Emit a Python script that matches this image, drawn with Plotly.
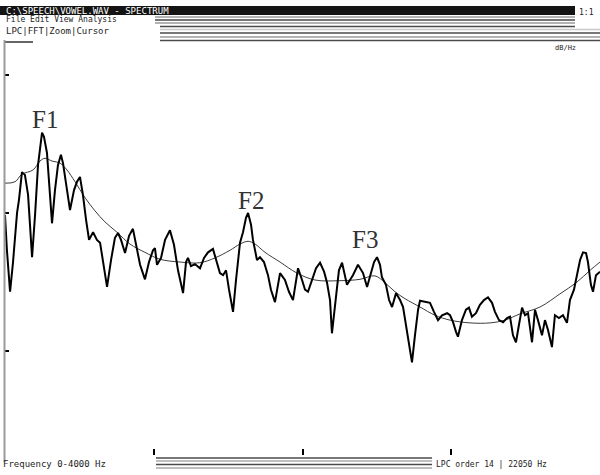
import plotly.graph_objects as go

# Harmonic spectrum (Hz, dB)
spec_hz = [0, 13, 34, 54, 81, 94, 114, 134, 155, 182, 202, 222, 249, 262, 282, 303, 316, 336, 356, 376,
           390, 417, 437, 464, 484, 504, 524, 545, 565, 592, 618, 639, 659, 686, 713, 739, 760, 780, 807, 834,
           860, 881, 908, 941, 968, 995, 1008, 1022, 1049, 1076, 1109, 1136, 1163, 1197, 1217, 1230, 1250, 1277, 1311, 1338,
           1365, 1398, 1425, 1445, 1466, 1486, 1506, 1533, 1553, 1580, 1600, 1620, 1634, 1654, 1667, 1694, 1714, 1741, 1768, 1788,
           1815, 1849, 1882, 1909, 1936, 1970, 1997, 2017, 2037, 2064, 2091, 2118, 2145, 2165, 2185, 2198, 2225, 2245, 2266, 2286,
           2299, 2319, 2339, 2373, 2407, 2434, 2454, 2481, 2501, 2521, 2534, 2561, 2582, 2602, 2629, 2656, 2676, 2696, 2716, 2736,
           2756, 2777, 2790, 2824, 2857, 2884, 2911, 2938, 2972, 2992, 3012, 3032, 3045, 3072, 3099, 3119, 3139, 3166, 3193, 3220,
           3247, 3274, 3294, 3321, 3348, 3375, 3395, 3415, 3435, 3455, 3476, 3496, 3516, 3543, 3563, 3583, 3610, 3630, 3650, 3677,
           3697, 3724, 3751, 3778, 3798, 3825, 3845, 3866, 3886, 3906, 3919, 3939, 3953, 3973, 4000]
spec_db = [39.7, 34.6, 28.6, 32.9, 40.0, 41.9, 45.9, 45.5, 42.6, 33.6, 39.7, 46.9, 51.6, 51.0, 48.7, 41.9, 38.5, 43.3, 46.9, 48.4,
           47.2, 43.3, 40.4, 43.3, 44.5, 45.2, 42.6, 39.0, 36.1, 37.2, 36.1, 35.7, 32.9, 29.3, 33.2, 36.4, 37.1, 36.1, 34.2, 36.7,
           37.7, 35.4, 32.5, 30.4, 32.9, 34.6, 34.9, 32.5, 33.5, 36.1, 37.5, 35.4, 31.7, 28.4, 32.9, 33.5, 32.3, 32.6, 32.0, 33.5,
           34.3, 34.8, 32.9, 31.3, 31.0, 31.7, 28.9, 25.7, 30.3, 35.7, 37.2, 39.3, 40.0, 38.3, 36.1, 33.2, 33.6, 32.9, 31.0, 28.9,
           27.1, 31.3, 30.3, 28.6, 27.4, 32.0, 30.3, 28.9, 28.6, 30.3, 32.0, 32.8, 31.5, 29.9, 27.4, 22.6, 27.4, 31.7, 32.8, 31.0,
           29.6, 30.3, 31.0, 32.5, 31.3, 29.3, 31.0, 32.9, 33.6, 32.5, 30.7, 29.6, 27.4, 26.4, 28.4, 27.4, 26.4, 23.8, 20.9, 18.4,
           22.3, 26.0, 27.3, 27.1, 27.0, 25.7, 24.5, 25.2, 25.5, 25.2, 24.2, 22.8, 22.1, 24.5, 26.0, 26.3, 25.0, 25.5, 26.7, 27.4,
           27.8, 27.0, 25.7, 24.5, 24.2, 24.8, 25.0, 22.3, 21.3, 23.8, 26.3, 25.2, 25.5, 21.3, 26.0, 24.5, 22.3, 24.5, 23.1, 20.6,
           25.2, 24.8, 25.2, 24.1, 27.4, 28.9, 31.0, 33.2, 34.3, 34.2, 32.9, 29.6, 28.6, 31.0, 31.5]

# Smooth LPC envelope (Hz, dB)
env_hz = [0, 67, 114, 188, 235, 269, 316, 370, 417, 471, 538, 605, 672, 753, 840, 941, 1042, 1176, 1311, 1412,
          1513, 1580, 1634, 1681, 1748, 1849, 1963, 2084, 2252, 2387, 2487, 2555, 2622, 2689, 2790, 2891, 2992, 3126, 3261, 3361,
          3462, 3597, 3731, 3845, 3933, 4000]
env_db = [44.3, 44.5, 45.6, 46.2, 47.5, 47.9, 47.5, 47.2, 46.2, 44.5, 42.2, 40.3, 38.7, 37.2, 35.5, 34.3, 33.3, 32.9, 32.8, 33.5,
          34.6, 35.5, 35.9, 35.5, 34.3, 32.9, 31.3, 30.3, 30.2, 30.4, 30.9, 29.9, 28.6, 27.6, 26.4, 25.2, 24.5, 24.1, 24.1, 24.5,
          25.4, 26.4, 28.3, 30.0, 31.7, 32.9]

# Formant peaks
formant_names = ["F1", "F2", "F3"]
formant_hz = [249, 1634, 2501]
formant_db = [51.6, 40.0, 33.6]

freq_ticks = [1000, 2000, 3000]
level_ticks = [20, 40, 60]

W, H = 600, 475


def px(x):
    return x / W


def py(y):
    return 1 - y / H


fig = go.Figure()
fig.add_trace(go.Scatter(x=env_hz, y=env_db, mode="lines",
                         line=dict(color="#3c3c3c", width=1, shape="spline", smoothing=1),
                         hoverinfo="skip", showlegend=False))
fig.add_trace(go.Scatter(x=spec_hz, y=spec_db, mode="lines",
                         line=dict(color="#000000", width=2),
                         showlegend=False))

# label placement relative to each formant peak (pixels)
label_offsets = [(3, -2), (3, -3), (-12, 2)]
for name, fx, fy, (dx, dy) in zip(formant_names, formant_hz, formant_db, label_offsets):
    fig.add_annotation(x=fx, y=fy, text=name, showarrow=False,
                       xshift=dx, yshift=dy, yanchor="bottom",
                       font=dict(family="Liberation Serif", size=25, color="#333333"))

shapes = []
# title bar
shapes.append(dict(type="rect", xref="paper", yref="paper", x0=px(0), x1=px(575), y0=py(15), y1=py(6),
                   fillcolor="#141414", line=dict(width=0), layer="above"))
# toolbar stripes
for yy, col, x0, x1 in [(17, "#9a9a9a", 155, 575), (20, "#4a4a4a", 155, 575), (23, "#9a9a9a", 155, 575),
                        (26.5, "#4a4a4a", 160, 575), (29.5, "#c8c8c8", 160, 600), (33, "#4a4a4a", 160, 600),
                        (37, "#9a9a9a", 160, 600), (40.5, "#4a4a4a", 160, 600)]:
    shapes.append(dict(type="line", xref="paper", yref="paper", x0=px(x0), x1=px(x1), y0=py(yy), y1=py(yy),
                       line=dict(color=col, width=1.5)))
# small underline below toolbar
shapes.append(dict(type="line", xref="paper", yref="paper", x0=px(5), x1=px(33), y0=py(42), y1=py(42),
                   line=dict(color="#333333", width=1.5)))
# left frame
shapes.append(dict(type="line", xref="paper", yref="paper", x0=px(4.5), x1=px(4.5), y0=py(40), y1=py(462),
                   line=dict(color="#9a9a9a", width=2)))
# status bar stripes
for yy, col in [(458, "#4a4a4a"), (461, "#a8a8a8"), (464.5, "#4a4a4a"), (468, "#a8a8a8")]:
    shapes.append(dict(type="line", xref="paper", yref="paper", x0=px(156), x1=px(432), y0=py(yy), y1=py(yy),
                       line=dict(color=col, width=1.5)))

texts = [
    dict(x=px(4), y=py(10.5), text="C:\\SPEECH\\VOWEL.WAV - SPECTRUM", color="#ffffff", size=9),
    dict(x=px(4), y=py(19.5), text="File Edit View Analysis", color="#222222", size=8),
    dict(x=px(4), y=py(31), text="LPC|FFT|Zoom|Cursor", color="#222222", size=9),
    dict(x=px(1), y=py(464), text="Frequency 0-4000 Hz", color="#222222", size=9),
    dict(x=px(434), y=py(464), text="LPC order 14 | 22050 Hz", color="#222222", size=8),
    dict(x=px(577), y=py(12), text="1:1", color="#222222", size=8),
    dict(x=px(553), y=py(48), text="dB/Hz", color="#222222", size=7),
]
for t in texts:
    fig.add_annotation(x=t["x"], y=t["y"], xref="paper", yref="paper", text=t["text"], showarrow=False,
                       xanchor="left", yanchor="middle",
                       font=dict(family="DejaVu Sans Mono", size=t["size"], color=t["color"]))

fig.update_layout(
    width=W, height=H,
    margin=dict(l=0, r=0, t=0, b=0),
    paper_bgcolor="#ffffff", plot_bgcolor="#ffffff",
    shapes=shapes,
    xaxis=dict(domain=[px(5), 1], range=[0, 4000], showgrid=False, zeroline=False, showline=False,
               tickvals=freq_ticks, ticks="inside", ticklen=6, tickwidth=2, tickcolor="#000000",
               showticklabels=False),
    yaxis=dict(domain=[py(455), py(40)], range=[5, 65], showgrid=False, zeroline=False, showline=False,
               tickvals=level_ticks, ticks="inside", ticklen=4, tickwidth=2, tickcolor="#000000",
               showticklabels=False),
    hovermode=False,
)

fig.write_html("out.html")
